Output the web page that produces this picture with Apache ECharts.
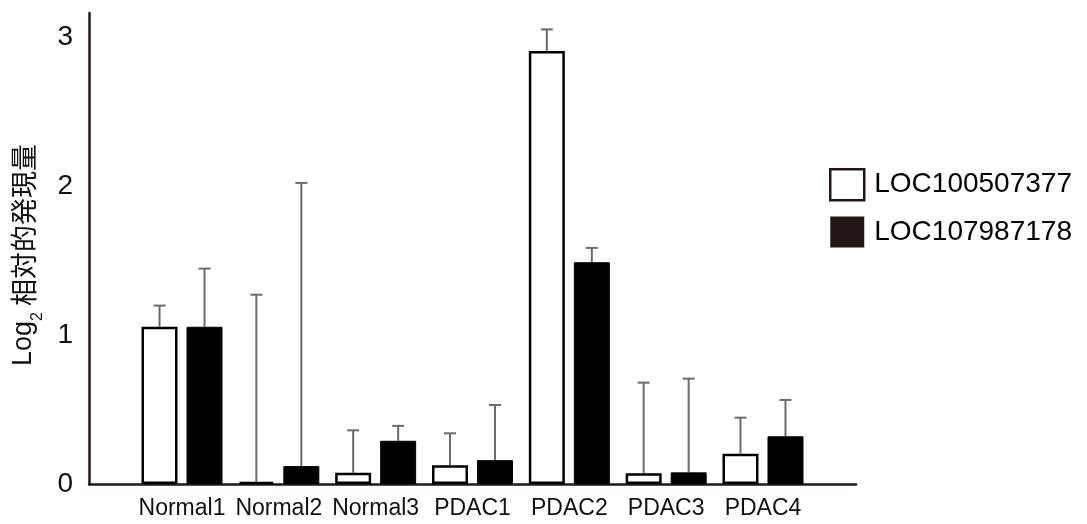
<!DOCTYPE html>
<html>
<head>
<meta charset="utf-8">
<script src="https://cdn.jsdelivr.net/npm/echarts@6/dist/echarts.min.js"></script>
<style>html,body{margin:0;padding:0;background:#fff}#c{width:1087px;height:524px}</style>
</head>
<body>
<div id="c"></div>
<script>
const categories = ['Normal1','Normal2','Normal3','PDAC1','PDAC2','PDAC3','PDAC4'];
const seriesNames = ['LOC100507377','LOC107987178'];
const valuesA = [1.055, 0.015, 0.076, 0.125, 2.905, 0.072, 0.203];
const errTopA = [1.197, 1.27, 0.36, 0.34, 3.05, 0.68, 0.445];
const valuesB = [1.055, 0.12, 0.29, 0.16, 1.488, 0.078, 0.32];
const errTopB = [1.445, 2.02, 0.39, 0.53, 1.584, 0.707, 0.564];
const yTicks = [0, 1, 2, 3];
const yMax = 3.16;

const BAR_W = 36, GAP = 9;
const axisColor = '#231815';
const errColor = '#6b6b6b';
const font = '"Liberation Sans", Arial, sans-serif';

function errSeries(vals, tops, sign) {
  return {
    type: 'custom', xAxisIndex: 1, yAxisIndex: 1, silent: true, z: 1,
    data: categories.map((c, i) => [i, vals[i], tops[i]]),
    renderItem: function (params, api) {
      const base = api.coord([api.value(0), api.value(1)]);
      const top = api.coord([api.value(0), api.value(2)]);
      const x = base[0] + sign * (BAR_W + GAP) / 2;
      const st = { stroke: errColor, lineWidth: 2 };
      return { type: 'group', children: [
        { type: 'line', shape: { x1: x, y1: base[1], x2: x, y2: top[1] }, style: st },
        { type: 'line', shape: { x1: x - 6, y1: top[1], x2: x + 6, y2: top[1] }, style: st }
      ]};
    }
  };
}

const chart = echarts.init(document.getElementById('c'));
chart.setOption({
  animation: false,
  backgroundColor: '#fff',
  grid: [
    { left: 89, top: 13, width: 767, height: 471 },
    { left: 133.6, top: 13, width: 677.8, height: 471 }
  ],
  xAxis: [
    { type: 'value', gridIndex: 0, min: 0, max: 1, axisLine: { show: true, lineStyle: { color: axisColor, width: 2.5 } },
      axisTick: { show: false }, axisLabel: { show: false }, splitLine: { show: false } },
    { type: 'category', gridIndex: 1, data: categories, axisLine: { show: false }, axisTick: { show: false },
      axisLabel: { interval: 0, color: '#111', fontSize: 23, fontFamily: font, margin: 13 } }
  ],
  yAxis: [
    { type: 'value', gridIndex: 0, min: 0, max: yMax, interval: 1,
      axisLine: { show: true, lineStyle: { color: axisColor, width: 2.5 } },
      axisTick: { show: false }, splitLine: { show: false },
      axisLabel: { color: '#111', fontSize: 28, fontFamily: font, margin: 16, showMaxLabel: false,
        formatter: v => yTicks.includes(v) ? String(v) : '' },
      name: '{a|Log}{s|2}{b| 相対的発現量}', nameLocation: 'middle', nameGap: 52,
      nameTextStyle: { padding: [0, 13, 0, 0], rich: {
        a: { fontSize: 27, fontFamily: font, color: '#111' },
        s: { fontSize: 16, fontFamily: font, color: '#111', verticalAlign: 'bottom', padding: [0, 0, -9, 0] },
        b: { fontSize: 27, fontFamily: '"Noto Sans CJK JP", sans-serif', color: '#111' }
      } } },
    { type: 'value', gridIndex: 1, min: 0, max: yMax, show: false }
  ],
  legend: {
    orient: 'vertical', left: 829, top: 168, padding: 0, itemWidth: 34, itemHeight: 31, itemGap: 15,
    icon: 'rect', textStyle: { fontSize: 28, fontFamily: font, color: '#000', padding: [0, 0, 0, 5] },
    data: [
      { name: seriesNames[0], itemStyle: { color: '#fff', borderColor: axisColor, borderWidth: 2.5 } },
      { name: seriesNames[1], itemStyle: { color: axisColor, borderWidth: 0 } }
    ]
  },
  series: [
    errSeries(valuesA, errTopA, -1),
    errSeries(valuesB, errTopB, 1),
    { name: seriesNames[0], type: 'bar', xAxisIndex: 1, yAxisIndex: 1, data: valuesA, barWidth: BAR_W, barGap: (GAP / BAR_W * 100) + '%', z: 3,
      itemStyle: { color: '#fff', borderColor: '#000', borderWidth: 2.5 } },
    { name: seriesNames[1], type: 'bar', xAxisIndex: 1, yAxisIndex: 1, data: valuesB, barWidth: BAR_W, z: 3,
      itemStyle: { color: '#000', borderColor: '#000', borderWidth: 1 } }
  ]
});
</script>
</body>
</html>
